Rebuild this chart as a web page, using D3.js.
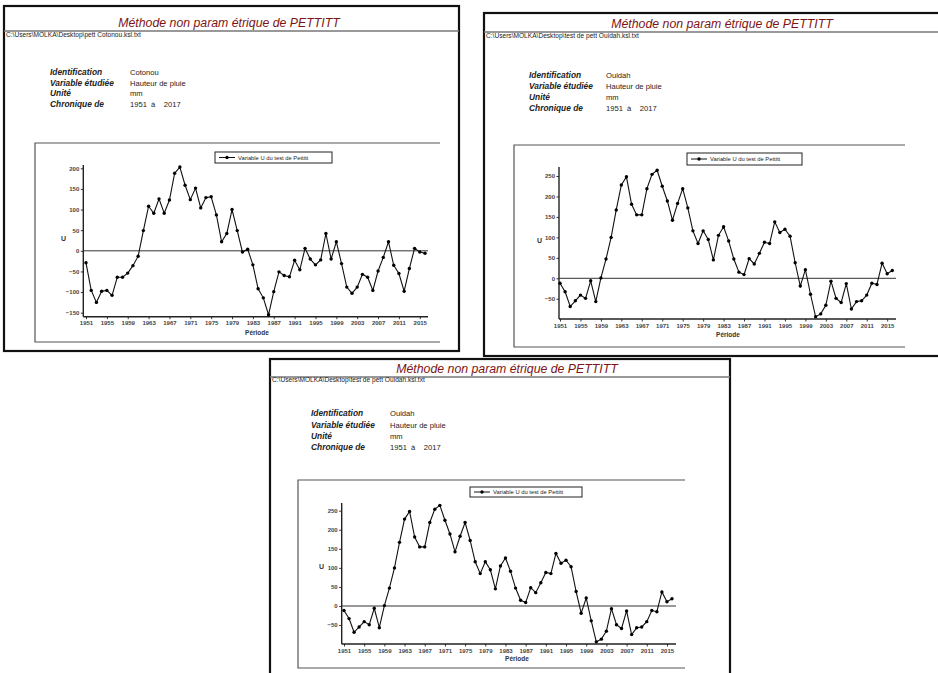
<!DOCTYPE html>
<html>
<head>
<meta charset="utf-8">
<script src="https://cdn.jsdelivr.net/npm/d3@7"></script>
<style>
  html, body { margin: 0; padding: 0; background: #fff; }
  svg { display: block; font-family: "Liberation Sans", Arial, sans-serif; }
</style>
</head>
<body>
<svg id="c" width="938" height="673"></svg>
<script>
// Pettitt statistic U, yearly, 1951-2016
const years = d3.range(1951, 2017);
const cotonouU = [
  -29, -96, -125, -98, -96, -108, -64, -64, -54, -36,
  -13, 49, 108, 91, 126, 91, 123, 188, 203, 159,
  124, 152, 104, 129, 131, 87, 22, 42, 100, 49,
  -3, 4, -34, -92, -114, -155, -99, -51, -60, -63,
  -23, -46, 6, -20, -34, -22, 42, -20, 22, -31,
  -88, -103, -88, -57, -64, -96, -49, -16, 22, -35,
  -55, -98, -43, 6, -3, -6
];
const ouidahU = [
  -12, -33, -69, -55, -41, -49, -6, -57, 1, 47,
  100, 167, 228, 248, 181, 155, 155, 219, 254, 264,
  225, 189, 142, 183, 219, 172, 116, 85, 116, 95,
  45, 105, 126, 91, 47, 15, 9, 48, 35, 61,
  88, 85, 138, 112, 120, 103, 38, -19, 21, -39,
  -94, -87, -66, -7, -49, -59, -13, -75, -57, -55,
  -41, -12, -15, 37, 11, 19
];
const xTickYears = [1951, 1955, 1959, 1963, 1967, 1971, 1975, 1979, 1983, 1987, 1991, 1995, 1999, 2003, 2007, 2011, 2015];
const cotonouYTicks = [-150, -100, -50, 0, 50, 100, 150, 200];
const ouidahYTicks = [-50, 0, 50, 100, 150, 200, 250];

const titleText = "Méthode non param étrique de PETTITT";
const infoLabels = ["Identification", "Variable étudiée", "Unité", "Chronique de"];
const legendText = "Variable U du test de Pettitt";

// one report sheet per station
const sheets = [
  {
    path: "C:\\Users\\MOLKA\\Desktop\\pett Cotonou.ksl.txt",
    station: "Cotonou", values: cotonouU, yTicks: cotonouYTicks,
    box: { x0: 4, y0: 6, x1: 459, y1: 351 },
    titleX: 229, titleY: 27, ruleY: 31, pathY: 37,
    infoX: [50, 130], infoY: [75, 85.5, 96, 106.5],
    frame: { x0: 35, y0: 143, x1: 440, y1: 342 },
    xMap: [86, 425], yMap: { lo: -150, loPx: 312.7, hi: 200, hiPx: 168.3 },
    axisX: 83.3, axisY: 316.7, axisTop: 165, axisRight: 428,
    legend: { x: 215, y: 152, w: 117, h: 11 },
    uPos: [61, 241], periodePos: [257, 335]
  },
  {
    path: "C:\\Users\\MOLKA\\Desktop\\test de pett Ouidah.ksl.txt",
    station: "Ouidah", values: ouidahU, yTicks: ouidahYTicks,
    box: { x0: 484, y0: 13, x1: 962, y1: 356 },
    titleX: 722, titleY: 28, ruleY: 32, pathY: 38,
    infoX: [529, 606], infoY: [78, 89, 100, 111],
    frame: { x0: 514, y0: 145, x1: 905, y1: 347 },
    xMap: [560, 892.3], yMap: { lo: 0, loPx: 278.3, hi: 250, hiPx: 176 },
    axisX: 559, axisY: 319, axisTop: 167, axisRight: 896,
    legend: { x: 687, y: 153, w: 115, h: 12 },
    uPos: [537, 243], periodePos: [728, 337]
  },
  {
    path: "C:\\Users\\MOLKA\\Desktop\\test de pett Ouidah.ksl.txt",
    station: "Ouidah", values: ouidahU, yTicks: ouidahYTicks,
    box: { x0: 270, y0: 359, x1: 730, y1: 690 },
    titleX: 507, titleY: 373, ruleY: 377, pathY: 382,
    infoX: [311, 390], infoY: [416, 428, 439, 450],
    frame: { x0: 298, y0: 480, x1: 685, y1: 668 },
    xMap: [344, 672], yMap: { lo: 0, loPx: 606, hi: 250, hiPx: 510.7 },
    axisX: 341.7, axisY: 644, axisTop: 503, axisRight: 676,
    legend: { x: 470, y: 487, w: 112, h: 10 },
    uPos: [319, 569], periodePos: [517, 661]
  }
];

const svg = d3.select("#c");

sheets.forEach(s => {
  const g = svg.append("g");

  // sheet border
  g.append("rect")
    .attr("x", s.box.x0).attr("y", s.box.y0)
    .attr("width", s.box.x1 - s.box.x0).attr("height", s.box.y1 - s.box.y0)
    .attr("fill", "#fff").attr("stroke", "#111").attr("stroke-width", 2.2);

  // header
  g.append("text").attr("x", s.titleX).attr("y", s.titleY)
    .attr("text-anchor", "middle").attr("font-style", "italic")
    .attr("font-size", 12.3).attr("fill", "#7d1414").text(titleText);
  g.append("line")
    .attr("x1", s.box.x0).attr("x2", s.box.x1)
    .attr("y1", s.ruleY).attr("y2", s.ruleY)
    .attr("stroke", "#777").attr("stroke-width", 1.6);
  g.append("text").attr("x", s.box.x0 + 2).attr("y", s.pathY)
    .attr("font-size", 6.6).attr("fill", "#222").text(s.path);

  // identification block
  const infoValues = [s.station, "Hauteur de pluie", "mm", "1951  à    2017"];
  infoLabels.forEach((lab, i) => {
    g.append("text").attr("x", s.infoX[0]).attr("y", s.infoY[i])
      .attr("font-size", 8.4).attr("font-weight", "bold").attr("font-style", "italic")
      .attr("fill", "#222").text(lab);
    g.append("text").attr("x", s.infoX[1]).attr("y", s.infoY[i])
      .attr("font-size", 7.6).attr("fill", "#222")
      .attr("xml:space", "preserve").style("white-space", "pre").text(infoValues[i]);
  });

  // chart frame (top, left, bottom)
  g.append("path")
    .attr("d", `M${s.frame.x1},${s.frame.y0}H${s.frame.x0}V${s.frame.y1}H${s.frame.x1}`)
    .attr("fill", "none").attr("stroke", "#555").attr("stroke-width", 1.2);

  // scales
  const x = d3.scaleLinear().domain([years[0], years[years.length - 1]]).range(s.xMap);
  const y = d3.scaleLinear().domain([s.yMap.lo, s.yMap.hi]).range([s.yMap.loPx, s.yMap.hiPx]);

  // axes
  const ax = g.append("g").attr("transform", `translate(0,${s.axisY})`)
    .call(d3.axisBottom(x).tickValues(xTickYears).tickFormat(d3.format("d")).tickSize(2.5).tickPadding(2));
  ax.select(".domain").remove();
  ax.append("line").attr("x1", s.axisX).attr("x2", s.axisRight)
    .attr("stroke", "#222").attr("stroke-width", 1.6);
  ax.selectAll("text").attr("font-size", 6).attr("font-weight", "bold").attr("fill", "#444");
  ax.selectAll(".tick line").attr("stroke", "#333");

  const ay = g.append("g").attr("transform", `translate(${s.axisX},0)`)
    .call(d3.axisLeft(y).tickValues(s.yTicks).tickSize(2.5).tickPadding(1.5));
  ay.select(".domain").remove();
  ay.append("line").attr("y1", s.axisTop).attr("y2", s.axisY)
    .attr("stroke", "#222").attr("stroke-width", 1.4);
  ay.selectAll("text").attr("font-size", 6).attr("font-weight", "bold").attr("fill", "#444");
  ay.selectAll(".tick line").attr("stroke", "#333");

  g.append("text").attr("x", s.uPos[0]).attr("y", s.uPos[1])
    .attr("font-size", 7).attr("font-weight", "bold").attr("fill", "#333").text("U");
  g.append("text").attr("x", s.periodePos[0]).attr("y", s.periodePos[1])
    .attr("text-anchor", "middle").attr("font-size", 6.5).attr("font-weight", "bold")
    .attr("fill", "#333").text("Période");

  // zero reference line
  g.append("line").attr("x1", s.axisX).attr("x2", s.axisRight)
    .attr("y1", y(0)).attr("y2", y(0)).attr("stroke", "#333").attr("stroke-width", 1);

  // series
  const pts = years.map((yr, i) => [yr, s.values[i]]);
  g.append("path").datum(pts)
    .attr("d", d3.line().x(d => x(d[0])).y(d => y(d[1])))
    .attr("fill", "none").attr("stroke", "#111").attr("stroke-width", 1.1);
  g.append("g").selectAll("circle").data(pts).join("circle")
    .attr("cx", d => x(d[0])).attr("cy", d => y(d[1])).attr("r", 1.7).attr("fill", "#000");

  // legend
  const L = s.legend;
  const lg = g.append("g");
  lg.append("rect").attr("x", L.x).attr("y", L.y).attr("width", L.w).attr("height", L.h)
    .attr("fill", "#fff").attr("stroke", "#222").attr("stroke-width", 1);
  lg.append("line").attr("x1", L.x + 4).attr("x2", L.x + 20)
    .attr("y1", L.y + L.h / 2).attr("y2", L.y + L.h / 2).attr("stroke", "#111").attr("stroke-width", 1);
  lg.append("circle").attr("cx", L.x + 12).attr("cy", L.y + L.h / 2).attr("r", 1.7).attr("fill", "#000");
  lg.append("text").attr("x", L.x + 23).attr("y", L.y + L.h / 2 + 2)
    .attr("font-size", 5.8).attr("fill", "#222").text(legendText);
});
</script>
</body>
</html>
